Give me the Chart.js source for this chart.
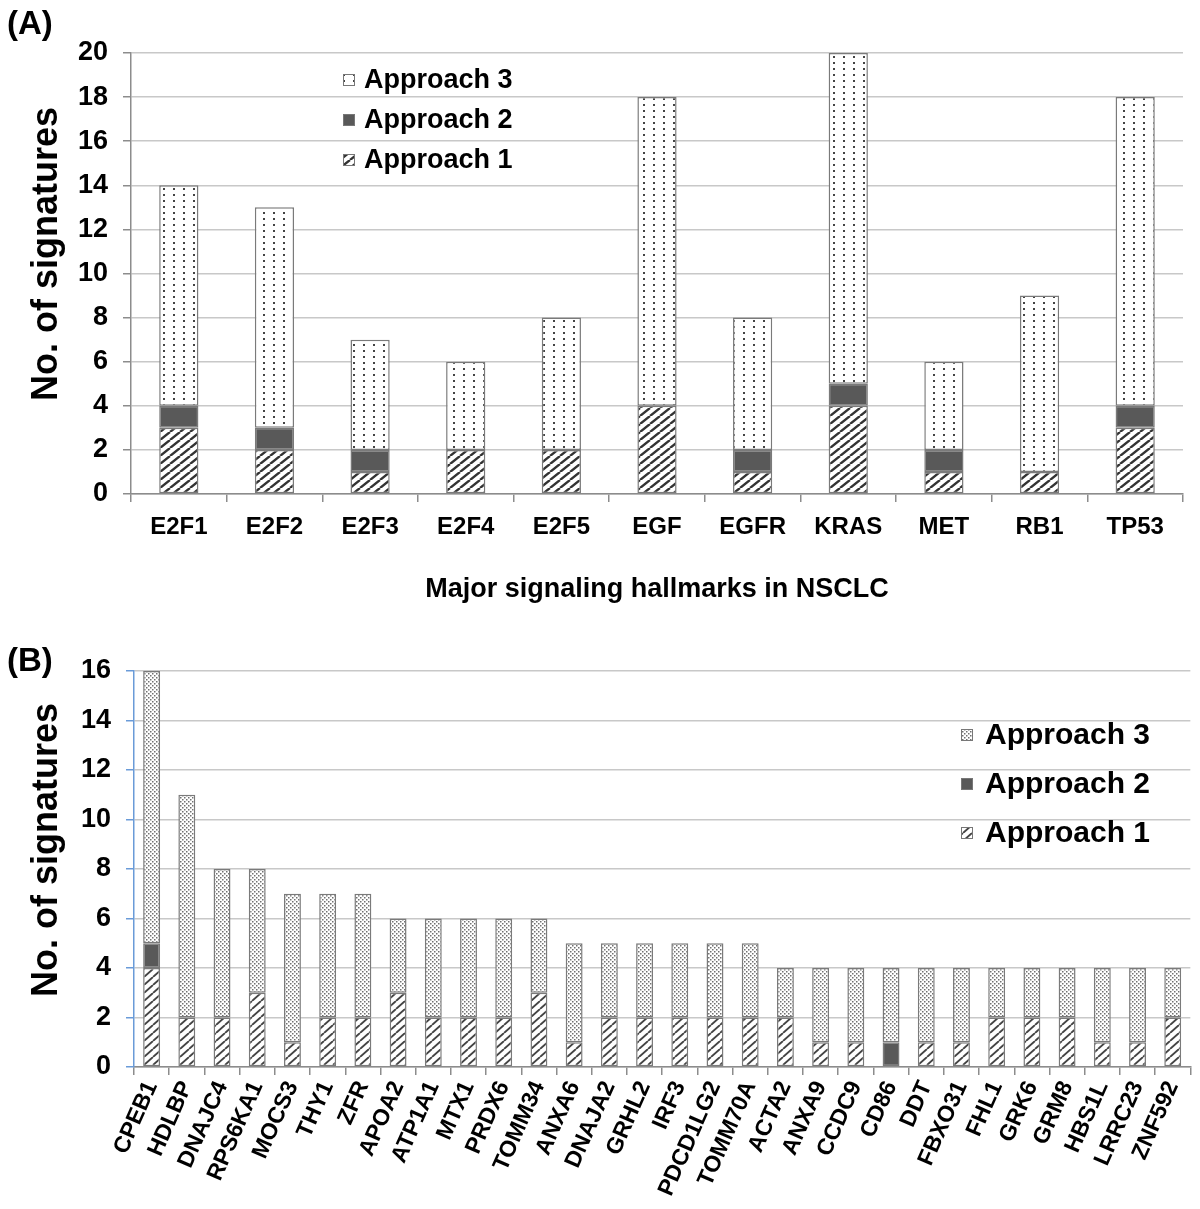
<!DOCTYPE html>
<html><head><meta charset="utf-8">
<script src="https://cdn.jsdelivr.net/npm/chart.js@4.4.1/dist/chart.umd.min.js"></script>
<style>
html,body{margin:0;padding:0;background:#fff;width:1200px;height:1209px;overflow:hidden;}
#wrap{position:relative;width:1200px;height:1209px;}
canvas{position:absolute;left:0;}
#cA{top:0;} #cB{top:625px;}
.panel{position:absolute;left:7px;font:bold 33px "Liberation Sans",Arial,sans-serif;color:#000;line-height:1;}
</style></head>
<body><div id="wrap">
<canvas id="cA" width="1200" height="625"></canvas>
<canvas id="cB" width="1200" height="584"></canvas>
<div class="panel" style="top:6px">(A)</div>
<div class="panel" style="top:643px">(B)</div>
</div>
<script>
// ---------- data ----------
const seriesNames = ['Approach 1', 'Approach 2', 'Approach 3'];
const yTitle = 'No. of signatures';

const hallmarks = ['E2F1','E2F2','E2F3','E2F4','E2F5','EGF','EGFR','KRAS','MET','RB1','TP53'];
const hallApproach1 = [3,2,1,2,2,4,1,4,1,1,3];
const hallApproach2 = [1,1,1,0,0,0,1,1,1,0,1];
const hallApproach3 = [10,10,5,4,6,14,6,15,4,8,14];
const yTicksA = [0,2,4,6,8,10,12,14,16,18,20];

const genes = ['CPEB1','HDLBP','DNAJC4','RPS6KA1','MOCS3','THY1','ZFR','APOA2','ATP1A1','MTX1','PRDX6','TOMM34','ANXA6','DNAJA2','GRHL2','IRF3','PDCD1LG2','TOMM70A','ACTA2','ANXA9','CCDC9','CD86','DDT','FBXO31','FHL1','GRK6','GRM8','HBS1L','LRRC23','ZNF592'];
const geneApproach1 = [4,2,2,3,1,2,2,3,2,2,2,3,1,2,2,2,2,2,2,1,1,0,1,1,2,2,2,1,1,2];
const geneApproach2 = [1,0,0,0,0,0,0,0,0,0,0,0,0,0,0,0,0,0,0,0,0,1,0,0,0,0,0,0,0,0];
const geneApproach3 = [11,9,6,5,6,5,5,3,4,4,4,3,4,3,3,3,3,3,2,3,3,3,3,3,2,2,2,3,3,2];
const yTicksB = [0,2,4,6,8,10,12,14,16];

// ---------- styling helpers ----------
const F = '"Liberation Sans", Arial, sans-serif';

function hatch(w, h, lw, color) {
  const c = document.createElement('canvas'); c.width = w; c.height = h;
  const x = c.getContext('2d');
  x.fillStyle = '#fff'; x.fillRect(0, 0, w, h);
  x.strokeStyle = color; x.lineWidth = lw; x.beginPath();
  for (const dx of [-w, 0, w]) { x.moveTo(dx, h); x.lineTo(dx + w, 0); }
  x.stroke();
  return x.createPattern(c, 'repeat');
}
function dots(w, h, pts, s, color) {
  const c = document.createElement('canvas'); c.width = w; c.height = h;
  const x = c.getContext('2d');
  x.fillStyle = '#fff'; x.fillRect(0, 0, w, h);
  x.fillStyle = color;
  pts.forEach(p => x.fillRect(p[0], p[1], s, s));
  return x.createPattern(c, 'repeat');
}

const hatchA = hatch(10, 8, 2.4, '#333');
const dotsA = dots(10, 6, [[3, 2]], 2, '#444');
const hatchB = hatch(9, 8, 1.9, '#444');
const dotsB = dots(4, 4, [[0, 0], [2, 2]], 1.5, '#707070');
const solid2 = '#595959';
const edge = '#7a7a7a';

const legendPlugin = {
  id: 'customLegend',
  afterDraw(chart, args, o) {
    const ctx = chart.ctx;
    ctx.save();
    ctx.font = o.font;
    ctx.textBaseline = 'middle';
    ctx.textAlign = 'left';
    [2, 1, 0].forEach((di, i) => {
      const ds = chart.data.datasets[di];
      const y = o.y0 + i * o.dy;
      ctx.fillStyle = ds.backgroundColor;
      ctx.fillRect(o.bx, y - o.bs / 2, o.bs, o.bs);
      ctx.strokeStyle = '#777';
      ctx.lineWidth = 1;
      ctx.strokeRect(o.bx + 0.5, y - o.bs / 2 + 0.5, o.bs - 1, o.bs - 1);
      ctx.fillStyle = '#000';
      ctx.fillText(ds.label, o.tx, y + 1);
    });
    // rotated y-axis title
    ctx.font = o.titleFont;
    ctx.textAlign = 'center';
    ctx.translate(o.titleX, o.titleY);
    ctx.rotate(-Math.PI / 2);
    ctx.fillText(o.title, 0, 0);
    ctx.restore();
  }
};

function makeDatasets(a1, a2, a3, hp, dp, bw) {
  return [
    { label: seriesNames[0], data: a1, backgroundColor: hp, borderColor: edge, borderWidth: bw, borderSkipped: false },
    { label: seriesNames[1], data: a2, backgroundColor: solid2, borderColor: edge, borderWidth: bw, borderSkipped: false },
    { label: seriesNames[2], data: a3, backgroundColor: dp, borderColor: edge, borderWidth: bw, borderSkipped: false }
  ];
}

// ---------- chart A ----------
new Chart(document.getElementById('cA'), {
  type: 'bar',
  data: { labels: hallmarks, datasets: makeDatasets(hallApproach1, hallApproach2, hallApproach3, hatchA, dotsA, 1.5) },
  options: {
    responsive: false, animation: false, devicePixelRatio: 1,
    layout: { padding: { top: 53, right: 17, left: 0, bottom: 0 } },
    datasets: { bar: { barPercentage: 0.41, categoryPercentage: 1 } },
    plugins: {
      legend: { display: false }, tooltip: { enabled: false },
      customLegend: { font: 'bold 27px ' + F, bx: 343, bs: 12, tx: 364, y0: 80, dy: 40,
                      title: yTitle, titleFont: 'bold 36px ' + F, titleX: 47, titleY: 254 }
    },
    scales: {
      x: {
        stacked: true,
        grid: { display: true, drawOnChartArea: false, drawTicks: true, tickLength: 8, color: '#8c8c8c', lineWidth: 1.5, offset: true },
        border: { display: true, color: '#8c8c8c', width: 1.5 },
        ticks: { font: { family: F, size: 24, weight: 'bold' }, color: '#000', padding: 11, maxRotation: 0, autoSkip: false },
        title: { display: true, text: 'Major signaling hallmarks in NSCLC', font: { family: F, size: 27, weight: 'bold' }, color: '#000', padding: { top: 0, bottom: 19 } },
        afterFit(s) { s.height = 131; }
      },
      y: {
        stacked: true, min: 0, max: 20,
        afterBuildTicks(s) { s.ticks = yTicksA.map(v => ({ value: v })); },
        grid: { color: '#c8c8c8', lineWidth: 1.5, tickLength: 8, tickColor: '#8c8c8c' },
        border: { color: '#8c8c8c', width: 1.5 },
        ticks: { font: { family: F, size: 27, weight: 'bold' }, color: '#000', padding: 15 },
        afterFit(s) { s.width = 131; }
      }
    }
  },
  plugins: [legendPlugin]
});

// ---------- chart B ----------
new Chart(document.getElementById('cB'), {
  type: 'bar',
  data: { labels: genes, datasets: makeDatasets(geneApproach1, geneApproach2, geneApproach3, hatchB, dotsB, 1.5) },
  options: {
    responsive: false, animation: false, devicePixelRatio: 1,
    layout: { padding: { top: 46, right: 3, left: 0, bottom: 0 } },
    datasets: { bar: { barPercentage: 0.48, categoryPercentage: 1 } },
    plugins: {
      legend: { display: false }, tooltip: { enabled: false },
      customLegend: { font: 'bold 30px ' + F, bx: 961, bs: 12, tx: 985, y0: 110, dy: 49,
                      title: yTitle, titleFont: 'bold 36px ' + F, titleX: 47, titleY: 225 }
    },
    scales: {
      x: {
        stacked: true,
        grid: { display: true, drawOnChartArea: false, drawTicks: true, tickLength: 8, color: '#8c8c8c', lineWidth: 1.5, offset: true },
        border: { display: true, color: '#8c8c8c', width: 1.5 },
        ticks: { font: { family: F, size: 23, weight: 'bold' }, color: '#000', padding: 2, minRotation: 66, maxRotation: 66, autoSkip: false },
        afterFit(s) { s.height = 142; }
      },
      y: {
        stacked: true, min: 0, max: 16,
        afterBuildTicks(s) { s.ticks = yTicksB.map(v => ({ value: v })); },
        grid: { color: '#c8c8c8', lineWidth: 1.5, tickLength: 8, tickColor: '#6a9bd8' },
        border: { color: '#6a9bd8', width: 1.5 },
        ticks: { font: { family: F, size: 27, weight: 'bold' }, color: '#000', padding: 15 },
        afterFit(s) { s.width = 134; }
      }
    }
  },
  plugins: [legendPlugin]
});
</script>
</body></html>
